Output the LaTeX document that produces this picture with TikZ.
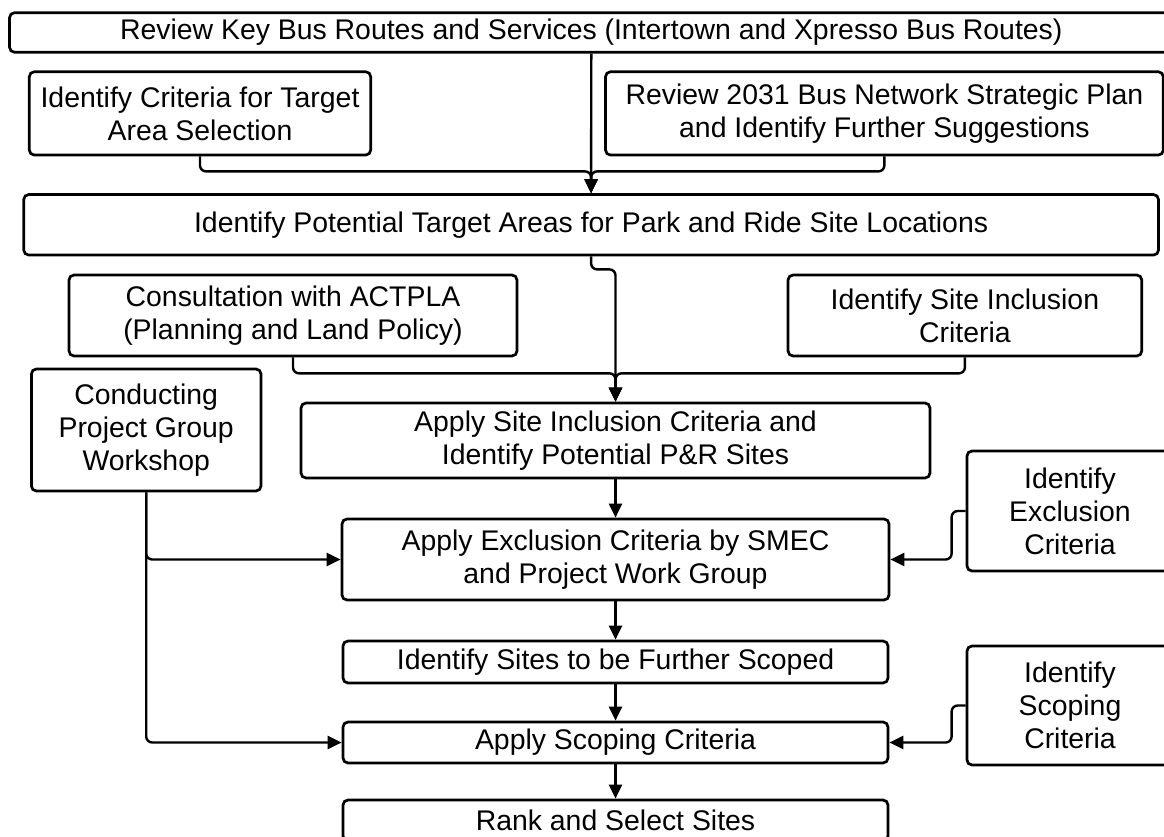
\documentclass[tikz,border=0pt]{standalone}
\usepackage{fontspec}
\setmainfont{Liberation Sans}
\usetikzlibrary{arrows.meta}
\begin{document}
\begin{tikzpicture}[x=1pt,y=-1pt,
  box/.style={draw=black, line width=2.7pt, rounded corners=5pt, fill=white,
    inner sep=0pt, align=center, text=black,
    font=\fontsize{28.4}{33}\selectfont},
  conn/.style={draw=black, line width=2.4pt, rounded corners=6pt,
    -{Triangle[length=14pt,width=13pt]}}]
\useasboundingbox (0,0) rectangle (1164,837);
\clip (0,0) rectangle (1164,837);
\fill[white] (0,0) rectangle (1164,837);

% process boxes
\node[box, minimum width=1163.5pt, minimum height=39.6pt] (b1) at (591.3,32.5)
  {Review Key Bus Routes and Services (Intertown and Xpresso Bus Routes)};
\node[box, minimum width=341.4pt, minimum height=83.3pt] (b2) at (200,113.4)
  {Identify Criteria for Target\\Area Selection};
\node[box, minimum width=557.8pt, minimum height=83.3pt] (b3) at (884.4,113.4)
  {Review 2031 Bus Network Strategic Plan\\and Identify Further Suggestions};
\node[box, minimum width=1134.8pt, minimum height=60.5pt] (b4) at (591.1,224.8)
  {Identify Potential Target Areas for Park and Ride Site Locations};
\node[box, minimum width=448pt, minimum height=81pt] (b5) at (293,315.5)
  {Consultation with ACTPLA\\(Planning and Land Policy)};
\node[box, minimum width=353.7pt, minimum height=81pt] (b6) at (964.9,315.5)
  {Identify Site Inclusion\\Criteria};
\node[box, minimum width=229.6pt, minimum height=122pt] (b7) at (146.2,430)
  {Conducting\\Project Group\\Workshop};
\node[box, minimum width=629pt, minimum height=75pt] (b8) at (615.5,440.5)
  {Apply Site Inclusion Criteria and\\Identify Potential P\&R Sites};
\node[box, minimum width=547pt, minimum height=81pt] (b9) at (615.5,559.5)
  {Apply Exclusion Criteria by SMEC\\and Project Work Group};
\node[box, minimum width=206pt, minimum height=120pt] (b10) at (1070,511)
  {Identify\\Exclusion\\Criteria};
\node[box, minimum width=545pt, minimum height=42pt] (b11) at (615.5,662)
  {Identify Sites to be Further Scoped};
\node[box, minimum width=545pt, minimum height=41pt] (b12) at (615.5,742.5)
  {Apply Scoping Criteria};
\node[box, minimum width=545pt, minimum height=41pt] (b13) at (615.5,820.5)
  {Rank and Select Sites};
\node[box, minimum width=206pt, minimum height=119pt] (b14) at (1070,705.5)
  {Identify\\Scoping\\Criteria};

% connectors
\draw[conn] (b1.south) -- (b4.north);
\draw[conn] (b2.south) -- ++(0,15) -| (b4.north);
\draw[conn] (b3.south) -- ++(0,15) -| (b4.north);
\draw[conn] (b4.south) -- ++(0,13) -| (b8.north);
\draw[conn] (b5.south) -- ++(0,16) -| (b8.north);
\draw[conn] (b6.south) -- ++(0,16) -| (b8.north);
\draw[conn] (b8.south) -- (b9.north);
\draw[conn] (b7.south) |- (b9.west);
\draw[conn] (b7.south) |- (b12.west);
\draw[conn] (b10.west) -- ++(-14,0) |- (b9.east);
\draw[conn] (b9.south) -- (b11.north);
\draw[conn] (b11.south) -- (b12.north);
\draw[conn] (b14.west) -- ++(-14,0) |- (b12.east);
\draw[conn] (b12.south) -- (b13.north);
\end{tikzpicture}
\end{document}
